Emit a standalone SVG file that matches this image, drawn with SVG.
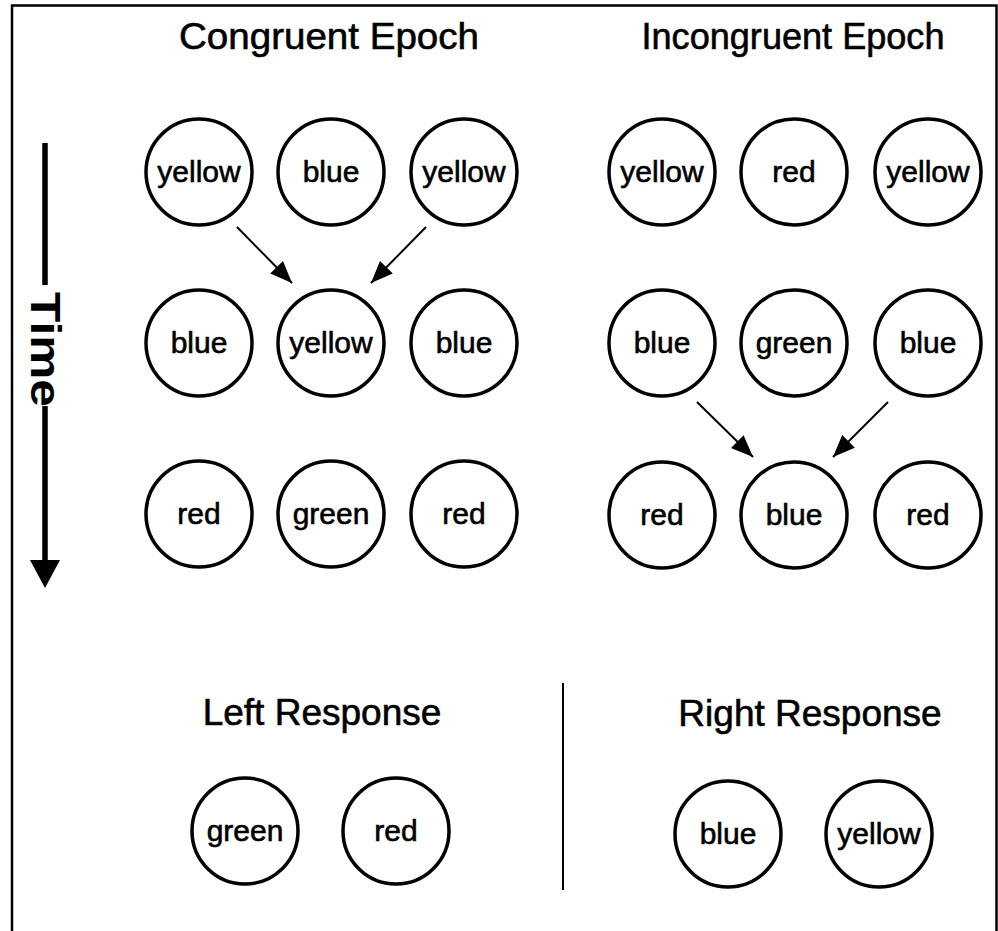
<svg xmlns="http://www.w3.org/2000/svg" width="998" height="931" viewBox="0 0 998 931">
<defs>
<style>
.node circle{fill:#fff;stroke:#000;stroke-width:3.5}
.node text{font-family:"Liberation Sans",Arial,sans-serif;font-size:30px;text-anchor:middle;fill:#000;stroke:#000;stroke-width:0.6}
.title{font-family:"Liberation Sans",Arial,sans-serif;font-size:37px;text-anchor:middle;fill:#000;stroke:#000;stroke-width:0.6}
.conn line{stroke:#000;stroke-width:2}
</style>
<marker id="ah" markerUnits="userSpaceOnUse" markerWidth="22" markerHeight="18" refX="22" refY="9" orient="auto">
<path d="M0,0 L22,9 L0,18 Z" fill="#000"/>
</marker>
</defs>
<rect width="998" height="931" fill="#fff"/>
<path d="M12,940 V5.5 H996.5 V940" fill="none" stroke="#000" stroke-width="2.5"/>
<text class="title" x="329" y="49" textLength="300" lengthAdjust="spacingAndGlyphs">Congruent Epoch</text>
<text class="title" x="793" y="49" textLength="303" lengthAdjust="spacingAndGlyphs">Incongruent Epoch</text>
<text class="title" x="322" y="725">Left Response</text>
<text class="title" x="810" y="726">Right Response</text>
<g id="time">
<line x1="45" y1="143" x2="45" y2="285" stroke="#000" stroke-width="5.5"/>
<text x="0" y="0" transform="translate(31,292) rotate(90)" font-family="Liberation Sans,Arial,sans-serif" font-size="42" font-weight="bold" textLength="115" lengthAdjust="spacingAndGlyphs">Time</text>
<line x1="45" y1="406" x2="45" y2="562" stroke="#000" stroke-width="5.5"/>
<path d="M30,560 L60,560 L45,588 Z" fill="#000"/>
</g>
<line x1="563" y1="683" x2="563" y2="890" stroke="#000" stroke-width="2"/>
<g id="c11" class="node"><circle cx="199" cy="172" r="53"/><text x="199" y="182">yellow</text></g>
<g id="c12" class="node"><circle cx="331" cy="172" r="53"/><text x="331" y="182">blue</text></g>
<g id="c13" class="node"><circle cx="464" cy="172" r="53"/><text x="464" y="182">yellow</text></g>
<g id="c21" class="node"><circle cx="199" cy="343" r="53"/><text x="199" y="353">blue</text></g>
<g id="c22" class="node"><circle cx="331" cy="343" r="53"/><text x="331" y="353">yellow</text></g>
<g id="c23" class="node"><circle cx="464" cy="343" r="53"/><text x="464" y="353">blue</text></g>
<g id="c31" class="node"><circle cx="199" cy="514" r="53"/><text x="199" y="524">red</text></g>
<g id="c32" class="node"><circle cx="331" cy="514" r="53"/><text x="331" y="524">green</text></g>
<g id="c33" class="node"><circle cx="464" cy="514" r="53"/><text x="464" y="524">red</text></g>
<g id="i11" class="node"><circle cx="662" cy="172" r="53"/><text x="662" y="182">yellow</text></g>
<g id="i12" class="node"><circle cx="794" cy="172" r="53"/><text x="794" y="182">red</text></g>
<g id="i13" class="node"><circle cx="928" cy="172" r="53"/><text x="928" y="182">yellow</text></g>
<g id="i21" class="node"><circle cx="662" cy="343" r="53"/><text x="662" y="353">blue</text></g>
<g id="i22" class="node"><circle cx="794" cy="343" r="53"/><text x="794" y="353">green</text></g>
<g id="i23" class="node"><circle cx="928" cy="343" r="53"/><text x="928" y="353">blue</text></g>
<g id="i31" class="node"><circle cx="662" cy="515" r="53"/><text x="662" y="525">red</text></g>
<g id="i32" class="node"><circle cx="794" cy="515" r="53"/><text x="794" y="525">blue</text></g>
<g id="i33" class="node"><circle cx="928" cy="515" r="53"/><text x="928" y="525">red</text></g>
<g id="l1" class="node"><circle cx="245" cy="831" r="53"/><text x="245" y="841">green</text></g>
<g id="l2" class="node"><circle cx="396" cy="831" r="53"/><text x="396" y="841">red</text></g>
<g id="r1" class="node"><circle cx="728" cy="834" r="53"/><text x="728" y="844">blue</text></g>
<g id="r2" class="node"><circle cx="879" cy="834" r="53"/><text x="879" y="844">yellow</text></g>
<g id="connectors" class="conn">
<line x1="237" y1="227" x2="292" y2="283" marker-end="url(#ah)"/>
<line x1="426" y1="227" x2="371" y2="283" marker-end="url(#ah)"/>
<line x1="697" y1="402" x2="753" y2="457" marker-end="url(#ah)"/>
<line x1="888" y1="402" x2="833" y2="457" marker-end="url(#ah)"/>
</g>
</svg>
